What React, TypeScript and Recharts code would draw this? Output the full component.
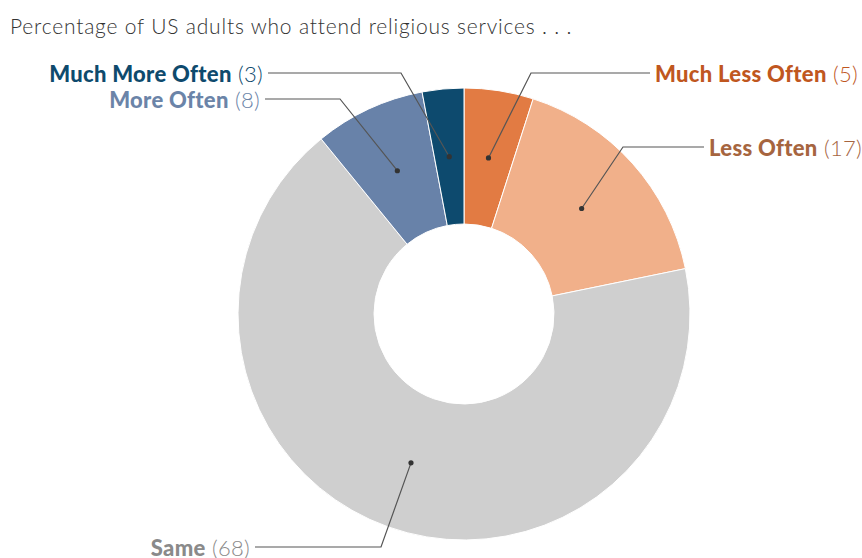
import { PieChart, Pie, Cell } from "recharts"

const categories = ["Much Less Often", "Less Often", "Same", "More Often", "Much More Often"]
const values = [5, 17, 68, 8, 3]

const sliceColors = ["#E27B43", "#F1B08A", "#CFCFCF", "#6882A9", "#0D4A6E"]
const labelColors = ["#C0571F", "#A6653F", "#8A8A8A", "#6B84A8", "#0E4A6D"]

// hand-placed leader lines: elbow point, end of the horizontal run, side of the text
const labelLayout = [
  { ex: 531, ey: 73, hx: 650, side: "right" },
  { ex: 623, ey: 147, hx: 704, side: "right" },
  { ex: 381, ey: 547, hx: 255, side: "left" },
  { ex: 340, ey: 99, hx: 265, side: "left" },
  { ex: 401, ey: 73, hx: 268, side: "left" },
]

const data = categories.map((name, i) => ({ name, value: values[i] }))

const RAD = Math.PI / 180
const FONT = "Lato, 'Open Sans', sans-serif"

function renderLabel(props: any) {
  const { cx, cy, midAngle, innerRadius, outerRadius, index, name, value } = props
  const r = (innerRadius + outerRadius) / 2
  const x = cx + r * Math.cos(-midAngle * RAD)
  const y = cy + r * Math.sin(-midAngle * RAD)
  const l = labelLayout[index]
  const right = l.side === "right"
  const tx = right ? l.hx + 5 : l.hx - 5
  const color = labelColors[index]
  return (
    <g key={`lbl-${index}`}>
      <polyline
        points={`${x},${y} ${l.ex},${l.ey} ${l.hx},${l.ey}`}
        fill="none"
        stroke="#555"
        strokeWidth={1.2}
      />
      <circle cx={x} cy={y} r={2.6} fill="#333" />
      <text
        x={tx}
        y={l.ey}
        textAnchor={right ? "start" : "end"}
        dominantBaseline="central"
        fontFamily={FONT}
        fontSize={22}
        letterSpacing={0.3}
        fill={color}
      >
        <tspan fontWeight={900}>{name}</tspan>
        <tspan fontWeight={300}> ({value})</tspan>
      </text>
    </g>
  )
}

export default function App() {
  return (
    <div style={{ position: "absolute", left: 0, top: 0, width: 862, height: 558, background: "#fff" }}>
      <PieChart width={862} height={558} margin={{ top: 0, right: 0, bottom: 0, left: 0 }}>
        <text
          x={10}
          y={25}
          dominantBaseline="central"
          fontFamily={FONT}
          fontSize={21}
          fontWeight={300}
          letterSpacing={0.8}
          fill="#333"
        >
          Percentage of US adults who attend religious services . . .
        </text>
        <Pie
          data={data}
          dataKey="value"
          nameKey="name"
          cx={464}
          cy={314}
          innerRadius={90}
          outerRadius={226}
          startAngle={90}
          endAngle={-270}
          stroke="#fff"
          strokeWidth={1}
          label={renderLabel}
          labelLine={false}
          isAnimationActive={false}
        >
          {data.map((d, i) => (
            <Cell key={d.name} fill={sliceColors[i]} />
          ))}
        </Pie>
      </PieChart>
    </div>
  )
}
